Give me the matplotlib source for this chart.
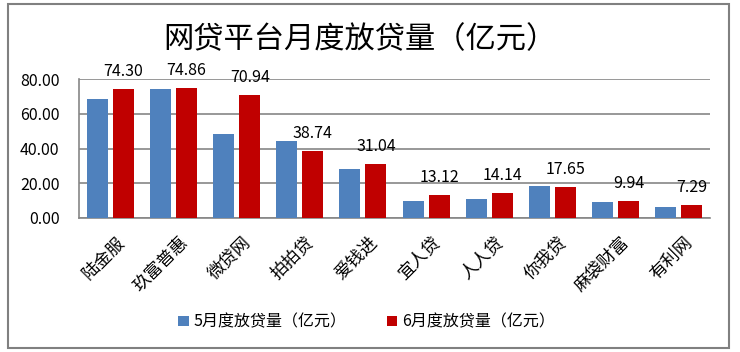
import matplotlib
matplotlib.use("Agg")
import matplotlib.pyplot as plt
from matplotlib.patches import Rectangle
from matplotlib.transforms import ScaledTranslation
import numpy as np

plt.rcParams['font.family'] = ['Noto Sans CJK SC', 'DejaVu Sans']

categories = ["陆金服", "玖富普惠", "微贷网", "拍拍贷", "爱钱进", "宜人贷", "人人贷", "你我贷", "麻袋财富", "有利网"]
may_values = [68.5, 74.2, 48.3, 44.3, 28.2, 9.8, 10.9, 18.4, 9.2, 6.3]
june_values = [74.30, 74.86, 70.94, 38.74, 31.04, 13.12, 14.14, 17.65, 9.94, 7.29]
yticks = [0, 20, 40, 60, 80]
title = "网贷平台月度放贷量（亿元）"
series_names = ["5月度放贷量（亿元）", "6月度放贷量（亿元）"]

W, H = 740, 352
fig = plt.figure(figsize=(W / 100, H / 100), dpi=100)
ax = fig.add_axes([79 / W, 1 - 218 / H, (710 - 79) / W, (218 - 79.3) / H])

x = np.arange(len(categories))
bw = 0.333
off = 0.04 + bw / 2
b1 = ax.bar(x - off, may_values, width=bw, color="#4F81BD", label=series_names[0], zorder=3)
b2 = ax.bar(x + off, june_values, width=bw, color="#C00000", label=series_names[1], zorder=3)

for xi, v in zip(x + off, june_values):
    ax.annotate(f"{v:.2f}", (xi, v), xytext=(0, 9.5), textcoords="offset points",
                ha="center", va="baseline", fontsize=11.5, color="#000000")

ax.set_xlim(-0.5, len(categories) - 0.5)
ax.set_ylim(0, 80)
ax.set_yticks(yticks)
ax.set_yticklabels([f"{t:.2f}" for t in yticks], fontsize=11.5)
ax.tick_params(axis="y", length=0, pad=14)
ax.set_xticks(x)
ax.set_xticklabels(categories, rotation=45, ha="right", va="top", rotation_mode="anchor", fontsize=12.5)
ax.tick_params(axis="x", length=0, pad=11)
shift = ScaledTranslation(5 / 100, 0, fig.dpi_scale_trans)
for lab in ax.get_xticklabels():
    lab.set_transform(lab.get_transform() + shift)
ax.yaxis.grid(True, color="#868686", linewidth=1.2, zorder=0)
ax.set_axisbelow(True)
for s in ["top", "right"]:
    ax.spines[s].set_visible(False)
for s in ["left", "bottom"]:
    ax.spines[s].set_color("#868686")
    ax.spines[s].set_linewidth(1.2)

fig.text(0.487, 1 - 40 / H, title, ha="center", va="center", fontsize=21.8, color="#000000")

fig.legend(handles=[b1, b2], loc="center", bbox_to_anchor=(366.5 / W, 1 - 322 / H), ncol=2,
           frameon=False, fontsize=11.5, handlelength=0.65, handleheight=0.65,
           handletextpad=0.3, columnspacing=2.5)

fig.patches.append(Rectangle((8 / W, 1 - 348 / H), (729 - 8) / W, (348 - 4) / H,
                             transform=fig.transFigure, fill=False, edgecolor="#808080", linewidth=1.5))

fig.savefig("out.png", dpi=100)
